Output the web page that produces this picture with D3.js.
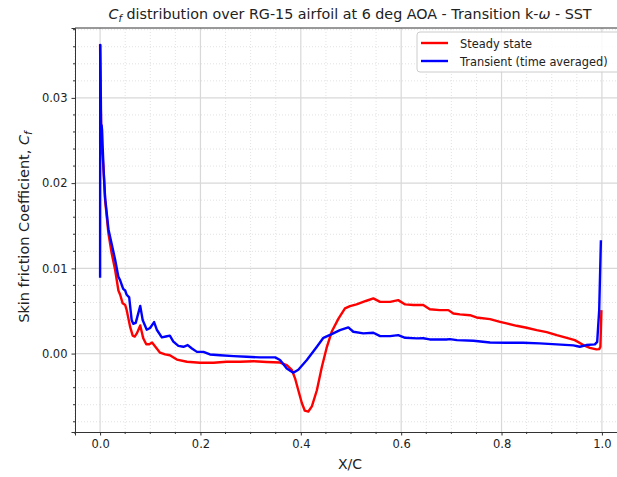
<!doctype html>
<html lang="en">

<head>
  <script src="https://d3js.org/d3.v7.min.js"></script>
  <style>
    body { margin: 0; background: #fff; }
    text { font-family: "DejaVu Sans", sans-serif; fill: #222; }
  </style>
</head>

<body>
  <svg id='chart'></svg>
  <script>
    // Cf data (x/c and Cf)
    var steadyX = [0, 0.001, 0.003, 0.005, 0.007, 0.010, 0.0166, 0.023, 0.030, 0.0365, 0.040, 0.045, 0.050, 0.053,
      0.060, 0.065, 0.069, 0.0735, 0.080, 0.086, 0.092, 0.098, 0.1036, 0.109, 0.1195, 0.1295, 0.139, 0.153, 0.173,
      0.199, 0.226, 0.252, 0.279, 0.306, 0.332, 0.3586, 0.372, 0.382, 0.3885, 0.395, 0.402, 0.408, 0.415, 0.422,
      0.432, 0.442, 0.452, 0.4615, 0.475, 0.488, 0.498, 0.511, 0.531, 0.5445, 0.558, 0.578, 0.594, 0.608, 0.6245,
      0.644, 0.657, 0.677, 0.694, 0.704, 0.717, 0.737, 0.750, 0.777, 0.797, 0.810, 0.830, 0.850, 0.870, 0.890,
      0.910, 0.930, 0.946, 0.963, 0.976, 0.989, 0.9946, 0.997, 0.999];
    var steadyCf = [0.0363, 0.0300, 0.0240, 0.0232, 0.0215, 0.0180, 0.0141, 0.0118, 0.0098, 0.0074, 0.0069, 0.0059,
      0.0057, 0.0051, 0.0031, 0.0021, 0.0020, 0.0024, 0.0033, 0.0018, 0.0011, 0.0011, 0.0013, 0.0009, 0.0001,
      -0.0001, -0.0002, -0.0007, -0.00096, -0.00108, -0.00108, -0.00096, -0.00096, -0.0009, -0.00098, -0.00105,
      -0.00135, -0.0019, -0.0029, -0.0043, -0.0058, -0.0067, -0.0068, -0.0062, -0.0043, -0.00155, 0.0008, 0.00256,
      0.0041, 0.0053, 0.00557, 0.00577, 0.0062, 0.00647, 0.00607, 0.00607, 0.00627, 0.00577, 0.0057, 0.0057,
      0.0052, 0.0051, 0.0051, 0.0047, 0.0046, 0.0045, 0.00424, 0.00404, 0.00373, 0.00354, 0.00326, 0.00303,
      0.00275, 0.00252, 0.00217, 0.00185, 0.00158, 0.0010, 0.00068, 0.00049, 0.00053, 0.0008, 0.0051];

    var transientX = [0, 0.0003, 0.0015, 0.002, 0.003, 0.004, 0.005, 0.007, 0.010, 0.0166, 0.023, 0.030, 0.0365,
      0.040, 0.046, 0.050, 0.053, 0.058, 0.063, 0.066, 0.071, 0.080, 0.085, 0.093, 0.0996, 0.1076, 0.113, 0.123,
      0.131, 0.139, 0.146, 0.156, 0.166, 0.1746, 0.183, 0.193, 0.206, 0.219, 0.239, 0.266, 0.292, 0.319, 0.349,
      0.3586, 0.372, 0.385, 0.395, 0.412, 0.432, 0.445, 0.4615, 0.478, 0.4947, 0.5046, 0.5245, 0.5445, 0.558,
      0.578, 0.594, 0.608, 0.631, 0.644, 0.657, 0.690, 0.697, 0.711, 0.744, 0.777, 0.810, 0.843, 0.876, 0.910,
      0.943, 0.956, 0.969, 0.986, 0.9906, 0.9946, 0.998];
    var transientCf = [0.0089, 0.0362, 0.0300, 0.0262, 0.0268, 0.0262, 0.0245, 0.0215, 0.0183, 0.0146, 0.0129,
      0.0110, 0.0090, 0.0086, 0.0076, 0.0074, 0.0069, 0.0066, 0.0039, 0.0035, 0.0036, 0.0056, 0.0039, 0.0028,
      0.0030, 0.0037, 0.0028, 0.0019, 0.0020, 0.0021, 0.0014, 0.0009, 0.0008, 0.0010, 0.0006, 0.0002, 0.0002,
      -0.0001, -0.0002, -0.0003, -0.00037, -0.00045, -0.00045, -0.00076, -0.00174, -0.00225, -0.0019, -0.00076,
      0.0008, 0.00185, 0.00229, 0.00276, 0.00307, 0.00256, 0.00237, 0.00244, 0.00205, 0.00205, 0.00217, 0.00185,
      0.00178, 0.0018, 0.00166, 0.00166, 0.0017, 0.00158, 0.0015, 0.0013, 0.00127, 0.00127, 0.0012, 0.00108,
      0.00096, 0.0008, 0.0010, 0.00108, 0.00138, 0.0051, 0.0133];

    var xTicks = [0, 0.2, 0.4, 0.6, 0.8, 1.0];
    var yTicks = [0, 0.01, 0.02, 0.03];
    var seriesNames = ["Steady state", "Transient (time averaged)"];

    width = 617;
    height = 477;
    margin = ({top: 28, right: -10, bottom: 45, left: 75});

    const svg = d3.select("#chart")
      .attr("width", width)
      .attr("height", height);

    x = d3.scaleLinear()
      .domain([-0.05, 1.05])
      .range([margin.left, width - margin.right]);

    y = d3.scaleLinear()
      .domain([-0.0092, 0.0382])
      .range([height - margin.bottom, margin.top]);

    xMinor = d3.range(-0.05, 1.051, 0.05).filter(d => Math.abs(Math.round(d * 5) - d * 5) > 1e-6);
    yMinor = d3.range(-0.008, 0.0381, 0.002).filter(d => Math.abs(Math.round(d * 100) - d * 100) > 1e-6);

    // grid, minor dotted then major solid
    var grid = svg.append("g");
    grid.selectAll(".vminor").data(xMinor).join("line")
      .attr("x1", d => x(d)).attr("x2", d => x(d))
      .attr("y1", y.range()[0]).attr("y2", y.range()[1])
      .attr("stroke", "#e2e2e2").attr("stroke-dasharray", "1,2");
    grid.selectAll(".hminor").data(yMinor).join("line")
      .attr("y1", d => y(d)).attr("y2", d => y(d))
      .attr("x1", x.range()[0]).attr("x2", x.range()[1])
      .attr("stroke", "#e2e2e2").attr("stroke-dasharray", "1,2");
    grid.selectAll(".vmajor").data(xTicks).join("line")
      .attr("x1", d => x(d)).attr("x2", d => x(d))
      .attr("y1", y.range()[0]).attr("y2", y.range()[1])
      .attr("stroke", "#d8d8d8").attr("stroke-width", 1.2);
    grid.selectAll(".hmajor").data(yTicks).join("line")
      .attr("y1", d => y(d)).attr("y2", d => y(d))
      .attr("x1", x.range()[0]).attr("x2", x.range()[1])
      .attr("stroke", "#d8d8d8").attr("stroke-width", 1.2);

    line = d3.line()
      .x(d => x(d[0]))
      .y(d => y(d[1]));

    svg.append("path")
      .datum(d3.zip(steadyX, steadyCf))
      .attr("fill", "none")
      .attr("stroke", "#ff0000")
      .attr("stroke-width", 2.4)
      .attr("stroke-linejoin", "round")
      .attr("d", line);

    svg.append("path")
      .datum(d3.zip(transientX, transientCf))
      .attr("fill", "none")
      .attr("stroke", "#0000ff")
      .attr("stroke-width", 2.4)
      .attr("stroke-linejoin", "round")
      .attr("d", line);

    // axes
    xAxis = g => g
      .attr("transform", `translate(0,${height - margin.bottom})`)
      .call(d3.axisBottom(x).tickValues(xTicks).tickFormat(d3.format(".1f")).tickSize(3.5).tickPadding(4))
      .call(g => g.selectAll(".minor").data(xMinor).join("line")
        .attr("class", "minor")
        .attr("x1", d => x(d)).attr("x2", d => x(d))
        .attr("y2", 2).attr("stroke", "#333"));

    yAxis = g => g
      .attr("transform", `translate(${margin.left},0)`)
      .call(d3.axisLeft(y).tickValues(yTicks).tickFormat(d3.format(".2f")).tickSize(3.5).tickPadding(4))
      .call(g => g.selectAll(".minor").data(yMinor).join("line")
        .attr("class", "minor")
        .attr("y1", d => y(d)).attr("y2", d => y(d))
        .attr("x2", -2).attr("stroke", "#333"));

    svg.append("g").call(xAxis);
    svg.append("g").call(yAxis);

    svg.selectAll(".tick text")
      .attr("font-family", "DejaVu Sans")
      .attr("font-size", 11.5)
      .attr("fill", "#333");
    svg.selectAll(".tick line").attr("stroke", "#333");
    svg.selectAll(".domain").attr("stroke", "#333");

    // top spine
    svg.append("line")
      .attr("x1", x.range()[0]).attr("x2", x.range()[1])
      .attr("y1", y.range()[1]).attr("y2", y.range()[1])
      .attr("stroke", "#333");

    // title and labels
    var title = svg.append("text")
      .attr("x", 350)
      .attr("y", 19)
      .attr("text-anchor", "middle")
      .attr("font-size", 14.3);
    title.append("tspan").attr("font-style", "italic").text("C");
    title.append("tspan").attr("font-style", "italic").attr("font-size", 10).attr("dy", 3).text("f");
    title.append("tspan").attr("dy", -3).text(" distribution over RG-15 airfoil at 6 deg AOA - Transition k-");
    title.append("tspan").attr("font-style", "italic").text("ω");
    title.append("tspan").text(" - SST");

    svg.append("text")
      .attr("x", 350)
      .attr("y", 469)
      .attr("text-anchor", "middle")
      .attr("font-size", 14)
      .text("X/C");

    var ylab = svg.append("text")
      .attr("transform", `translate(29,${(y.range()[0] + y.range()[1]) / 2 - 3}) rotate(-90)`)
      .attr("text-anchor", "middle")
      .attr("font-size", 14.5);
    ylab.append("tspan").text("Skin friction Coefficient, ");
    ylab.append("tspan").attr("font-style", "italic").text("C");
    ylab.append("tspan").attr("font-style", "italic").attr("font-size", 10.5).attr("dy", 3).text("f");

    // legend
    var colors = ["#ff0000", "#0000ff"];
    var legend = svg.append("g").attr("transform", "translate(417,32)");
    legend.append("rect")
      .attr("width", 212).attr("height", 40).attr("rx", 3)
      .attr("fill", "#fff").attr("fill-opacity", 0.85)
      .attr("stroke", "#ccc");
    var items = legend.selectAll(".item").data(seriesNames).join("g")
      .attr("transform", (d, i) => `translate(4,${11 + i * 18})`);
    items.append("line")
      .attr("x1", 0).attr("x2", 27)
      .attr("stroke", (d, i) => colors[i])
      .attr("stroke-width", 2.4);
    items.append("text")
      .attr("x", 39).attr("y", 4.5)
      .attr("font-size", 11.4)
      .text(d => d);
  </script>
</body>
</html>
